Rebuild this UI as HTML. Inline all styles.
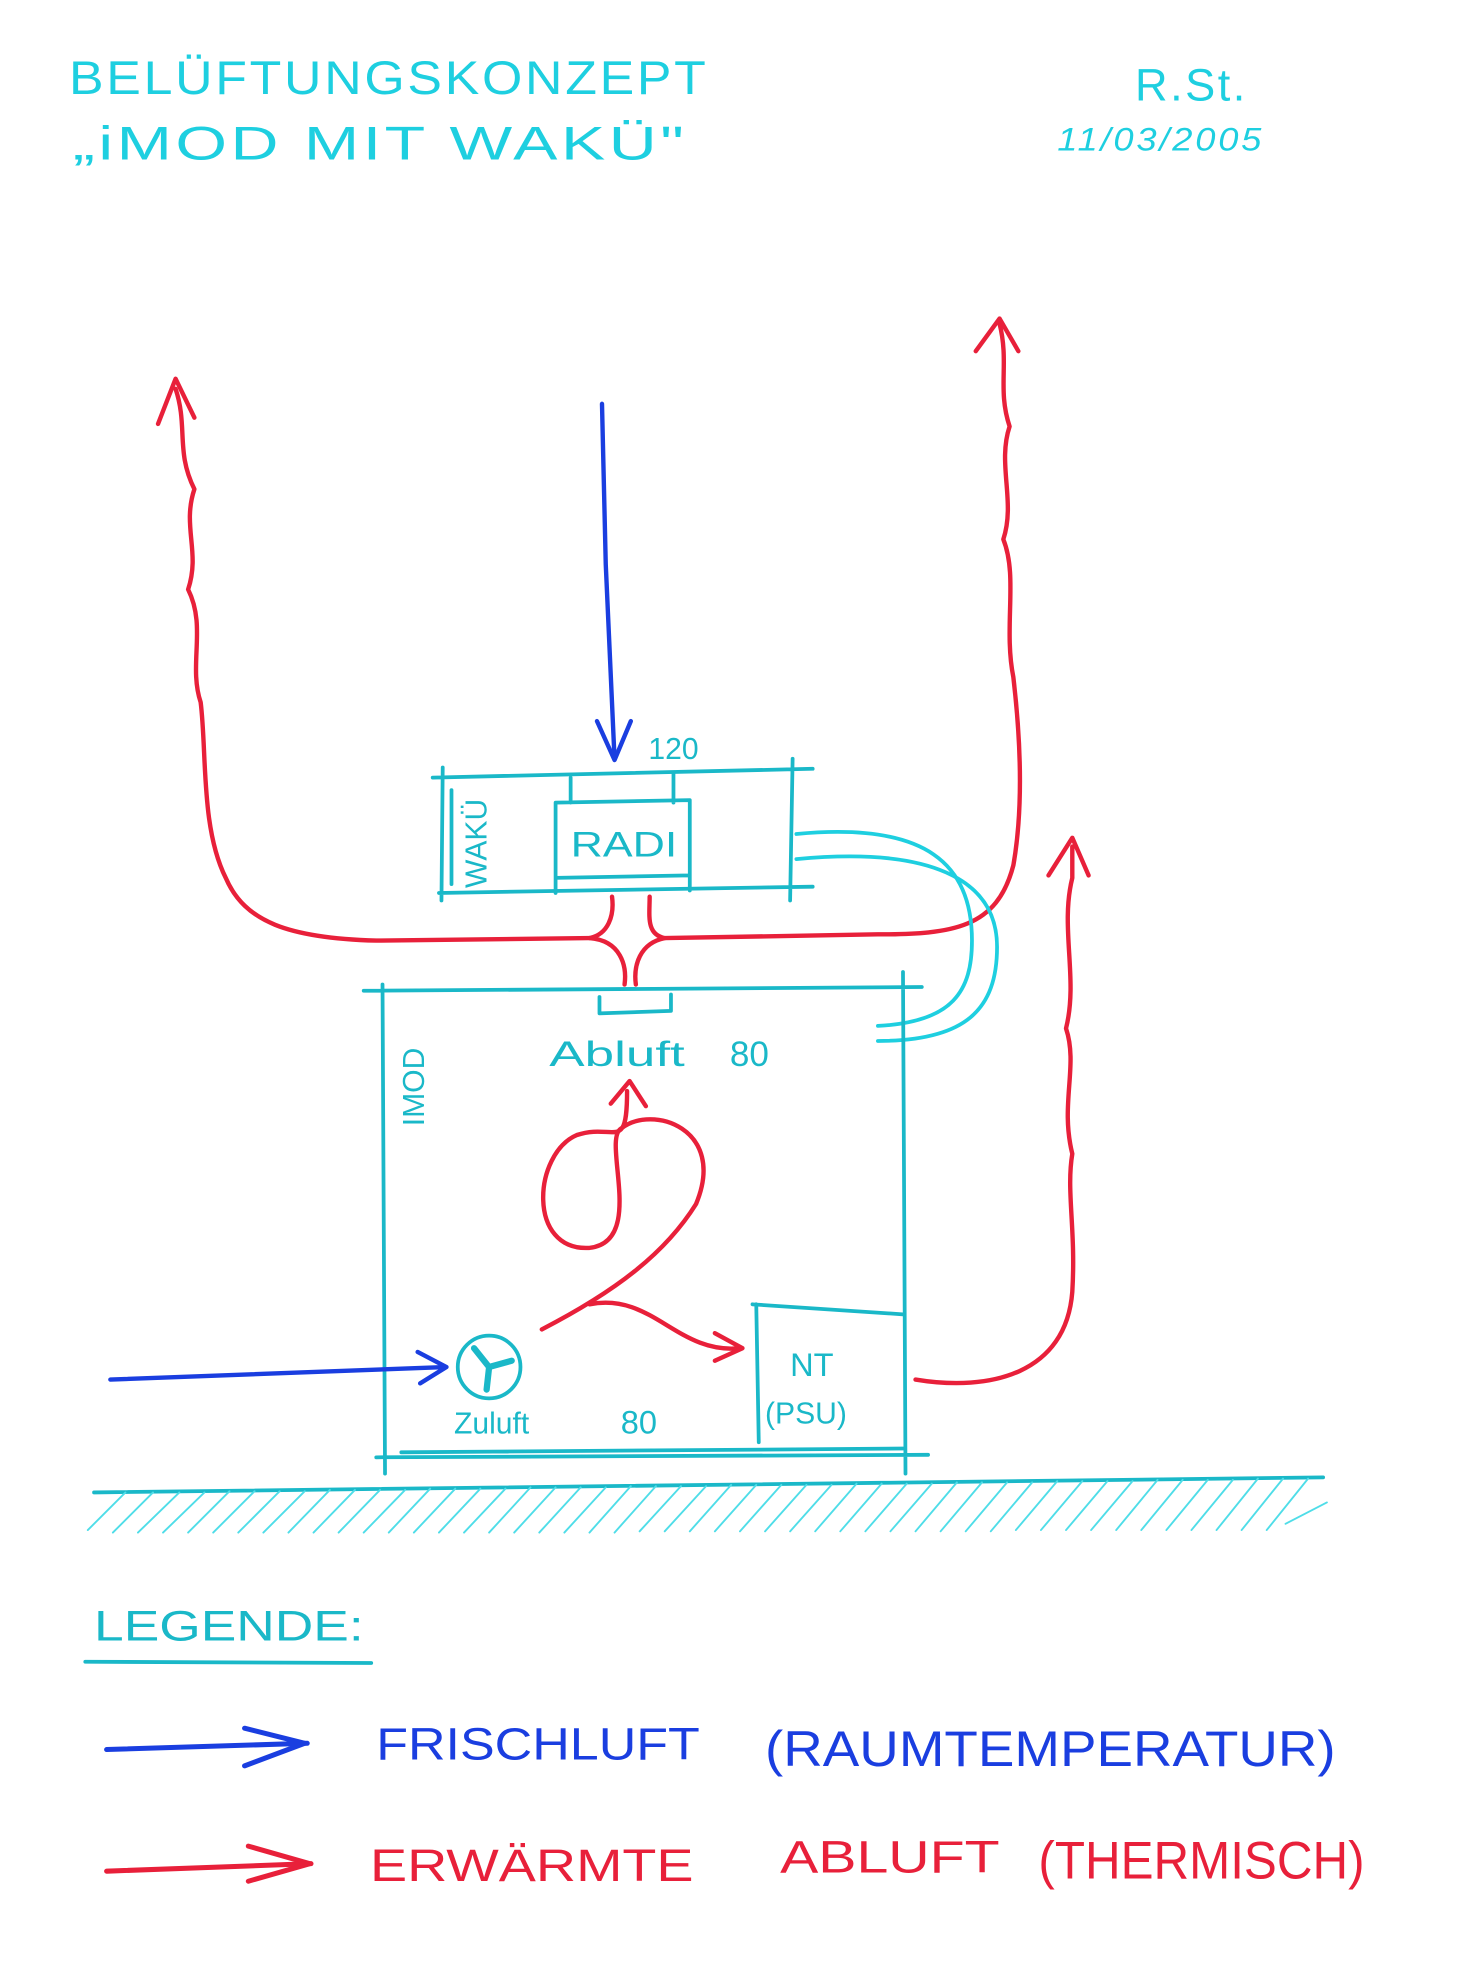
<!DOCTYPE html>
<html><head><meta charset="utf-8"><style>
html,body{margin:0;padding:0;background:#fff;}
svg{display:block;}
text{font-family:"Liberation Sans",sans-serif;}
</style></head><body>
<svg width="1470" height="1964" viewBox="0 0 1172 1566" preserveAspectRatio="xMinYMin meet" xmlns="http://www.w3.org/2000/svg">
<rect width="1172" height="1566" fill="#fff"/>
<g fill="#1ecfe0" font-size="38" letter-spacing="2">
<text x="55" y="75" textLength="510" lengthAdjust="spacingAndGlyphs">BELÜFTUNGSKONZEPT</text>
<text x="58" y="127" textLength="490" lengthAdjust="spacingAndGlyphs">„iMOD  MIT  WAKÜ"</text>
<text x="905" y="80" font-size="36">R.St.</text>
<text x="843" y="120" font-size="26" font-style="italic" textLength="165" lengthAdjust="spacingAndGlyphs">11/03/2005</text>
</g>
<g fill="none" stroke-linecap="round" stroke-linejoin="round">
<path d="M480 322 L483 450 L490 605" stroke="#1a3ee0" stroke-width="3.5"/>
<path d="M476 575 L490 606 L503 575" stroke="#1a3ee0" stroke-width="3.5"/>
<path d="M140 310 C150 340 140 360 155 390 C145 420 160 440 150 470 C165 500 150 530 160 560 C165 600 160 660 180 700 C195 735 230 748 300 750 L470 748 C485 745 490 730 488 715" stroke="#e8203a" stroke-width="3.5"/>
<path d="M126 338 L140 302 L155 333" stroke="#e8203a" stroke-width="3.5"/>
<path d="M470 748 C495 750 500 770 498 785" stroke="#e8203a" stroke-width="3.5"/>
<path d="M797 258 C805 290 795 310 805 340 C795 370 810 400 800 430 C812 460 800 500 808 540 C815 600 815 650 808 690 C795 740 760 745 700 745 L530 748 C515 745 518 730 518 715" stroke="#e8203a" stroke-width="3.5"/>
<path d="M778 280 L797 254 L812 280" stroke="#e8203a" stroke-width="3.5"/>
<path d="M530 748 C510 752 505 770 507 785" stroke="#e8203a" stroke-width="3.5"/>
<g stroke="#1ab8c8" stroke-width="3">
<path d="M345 620 L648 613 M350 712 L648 707 M353 612 L352 718 M632 605 L630 718 M360 630 L360 705"/>
<path d="M443 640 L550 638 L550 698 L443 700 Z M455 620 L455 640 M537 617 L537 640 M443 700 L443 712 M550 698 L550 710"/>
</g>
<g fill="#1ab8c8" stroke="none" font-size="28">
<text x="455" y="683" textLength="85" lengthAdjust="spacingAndGlyphs">RADI</text>
<text x="517" y="605" font-size="24">120</text>
<text transform="translate(388 708) rotate(-90)" font-size="24">WAKÜ</text>
</g>
<path d="M635 665 C740 655 775 690 775 750 C775 790 760 815 700 818" stroke="#1ecfe0" stroke-width="3"/>
<path d="M635 685 C740 675 795 700 795 755 C795 805 770 830 700 830" stroke="#1ecfe0" stroke-width="3"/>
<g stroke="#1ab8c8" stroke-width="3">
<path d="M290 790 L735 787 M305 785 L307 1175 M720 775 L722 1175 M300 1162 L740 1160 M320 1158 L720 1155"/>
<path d="M478 795 L478 808 L535 806 L535 793"/>
<path d="M600 1040 L720 1048 M603 1040 L605 1150"/>
</g>
<g fill="#1ab8c8" stroke="none" font-size="28">
<text x="438" y="850" textLength="108" lengthAdjust="spacingAndGlyphs">Abluft</text>
<text x="582" y="850">80</text>
<text transform="translate(338 898) rotate(-90)" font-size="24">IMOD</text>
<text x="362" y="1143" font-size="24">Zuluft</text>
<text x="495" y="1143" font-size="26">80</text>
<text x="630" y="1097" font-size="26">NT</text>
<text x="610" y="1135" font-size="24">(PSU)</text>
</g>
<circle cx="390" cy="1090" r="25" stroke="#1ab8c8" stroke-width="3"/>
<path d="M390 1090 L378 1075 M390 1090 L408 1085 M390 1090 L388 1108" stroke="#1ab8c8" stroke-width="5"/>
<path d="M88 1100 L355 1090" stroke="#1a3ee0" stroke-width="3.5"/>
<path d="M333 1078 L356 1090 L335 1103" stroke="#1a3ee0" stroke-width="3.5"/>
<path d="M432 1060 C490 1030 530 1000 555 960 C580 900 520 880 495 900 C480 910 515 990 470 995 C420 998 425 920 460 905 C490 895 500 920 500 870" stroke="#e8203a" stroke-width="3.5"/>
<path d="M487 880 L502 862 L515 882" stroke="#e8203a" stroke-width="3.5"/>
<path d="M470 1040 C520 1030 540 1080 590 1075" stroke="#e8203a" stroke-width="3.5"/>
<path d="M570 1063 L592 1075 L570 1085" stroke="#e8203a" stroke-width="3.5"/>
<path d="M730 1100 C790 1110 850 1095 855 1030 C858 980 850 950 855 920 C845 880 860 850 850 820 C860 780 845 740 855 700 L855 675" stroke="#e8203a" stroke-width="3.5"/>
<path d="M836 698 L855 668 L868 698" stroke="#e8203a" stroke-width="3.5"/>
<path d="M75 1190 L1055 1178" stroke="#1ab8c8" stroke-width="3"/>
<g stroke="#4fdde8" stroke-width="1.5">
<path d="M70 1220 L100 1190 M90 1222 L122 1190 M110 1222 L143 1190 M130 1222 L163 1190 M150 1222 L183 1189 M170 1222 L203 1189 M190 1222 L223 1189 M210 1222 L243 1189 M230 1222 L263 1188 M250 1222 L283 1188 M270 1222 L303 1188 M290 1222 L323 1188 M310 1222 L343 1187 M330 1222 L363 1187 M350 1222 L383 1187 M370 1222 L403 1187 M390 1222 L423 1186 M410 1222 L443 1186 M430 1222 L463 1186 M450 1222 L483 1186 M470 1222 L503 1185 M490 1222 L523 1185 M510 1221 L543 1185 M530 1221 L563 1185 M550 1221 L583 1184 M570 1221 L603 1184 M590 1221 L623 1184 M610 1221 L643 1184 M630 1221 L663 1184 M650 1221 L683 1183 M670 1221 L703 1183 M690 1221 L723 1183 M710 1221 L743 1183 M730 1221 L763 1182 M750 1221 L783 1182 M770 1221 L803 1182 M790 1221 L823 1182 M810 1220 L843 1181 M830 1220 L863 1181 M850 1220 L883 1181 M870 1220 L903 1181 M890 1220 L923 1180 M910 1220 L943 1180 M930 1220 L963 1180 M950 1220 L983 1180 M970 1220 L1003 1179 M990 1220 L1023 1179 M1010 1220 L1043 1179 M1025 1215 L1058 1198"/>
</g>
<path d="M68 1325 L296 1326" stroke="#1ab8c8" stroke-width="3"/>
<path d="M85 1395 L245 1390" stroke="#1a3ee0" stroke-width="4"/>
<path d="M195 1378 L243 1390 L195 1408" stroke="#1a3ee0" stroke-width="4"/>
<path d="M85 1492 L248 1486" stroke="#e8203a" stroke-width="4"/>
<path d="M198 1472 L247 1486 L198 1500" stroke="#e8203a" stroke-width="4"/>
</g>
<g stroke="none">
<text x="75" y="1308" fill="#1ab8c8" font-size="34" textLength="215" lengthAdjust="spacingAndGlyphs">LEGENDE:</text>
<text x="300" y="1403" fill="#1a3ee0" font-size="36" textLength="258" lengthAdjust="spacingAndGlyphs">FRISCHLUFT</text>
<text x="610" y="1408" fill="#1a3ee0" font-size="40" textLength="455" lengthAdjust="spacingAndGlyphs">(RAUMTEMPERATUR)</text>
<text x="295" y="1500" fill="#e8203a" font-size="36" textLength="258" lengthAdjust="spacingAndGlyphs">ERWÄRMTE</text>
<text x="622" y="1493" fill="#e8203a" font-size="36" textLength="175" lengthAdjust="spacingAndGlyphs">ABLUFT</text>
<text x="828" y="1498" fill="#e8203a" font-size="42" textLength="260" lengthAdjust="spacingAndGlyphs">(THERMISCH)</text>
</g>
</svg>
</body></html>
